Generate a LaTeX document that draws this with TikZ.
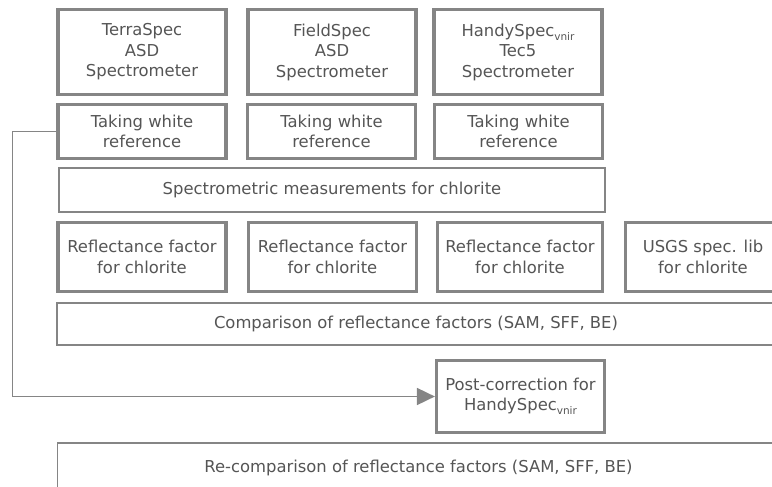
\documentclass[tikz,border=0pt]{standalone}
\usepackage{fontspec}
\setmainfont{DejaVu Sans}
\usetikzlibrary{positioning,arrows.meta,calc}
\definecolor{rand}{HTML}{858585}
\definecolor{tekst}{HTML}{555555}
\newcommand{\senket}[1]{\raisebox{-4pt}{\fontsize{10.5}{10.5}\selectfont #1}}

\begin{document}
\begin{tikzpicture}[
  x=1pt, y=-1pt,
  boks/.style={draw=rand, line width=3.2pt, align=center, text=tekst, inner sep=0pt,
    font=\fontsize{16.4}{20.5}\selectfont, minimum width=168pt},
  tynn/.style={boks, line width=1.8pt},
  pil/.style={-{Triangle[length=18pt, width=17pt]}, draw=rand, line width=1.8pt}
]
\useasboundingbox (0,0) rectangle (772,487);
\clip (0,0) rectangle (772,487);
\node[boks, minimum height=84.8pt] (terra) at (142,52) {TerraSpec\\ASD\\Spectrometer};
\node[boks, minimum height=84.8pt] (field) at (332,52) {FieldSpec\\ASD\\Spectrometer};
\node[boks, minimum height=84.8pt] (handy) at (518,52) {HandySpec\senket{vnir}\\Tec5\\Spectrometer};
\node[boks, minimum height=54pt] (hvit1) at (142,131.5) {Taking white\\reference};
\node[boks, minimum height=54pt] (hvit2) at (331.5,131.5) {Taking white\\reference};
\node[boks, minimum height=54pt] (hvit3) at (518.5,131.5) {Taking white\\reference};
\node[tynn, minimum width=546pt, minimum height=44pt] (maling) at (332,190) {Spectrometric measurements for chlorite};
\node[boks, minimum height=69pt] (refl1) at (142,257) {Reflectance factor\\for chlorite};
\node[boks, minimum height=69pt] (refl2) at (332.5,257) {Reflectance factor\\for chlorite};
\node[boks, minimum height=69pt, minimum width=165pt] (refl3) at (520,257) {Reflectance factor\\for chlorite};
\node[boks, minimum height=69pt, minimum width=155pt] (usgs) at (703,257) {USGS spec. lib\\for chlorite};
\node[tynn, minimum width=718pt, minimum height=42pt] (samm) at (416,324) {Comparison of reflectance factors (SAM, SFF, BE)};
\node[boks, minimum height=71.8pt] (korr) at (520.5,396.5) {Post-correction for\\HandySpec\senket{vnir}};
\node[tynn, minimum width=722pt, minimum height=50pt] (nysamm) at (418.5,468) {Re-comparison of reflectance factors (SAM, SFF, BE)};
\draw[pil] (hvit1.west) -- ++(-44,0) |- (korr.west);
\end{tikzpicture}
\end{document}
